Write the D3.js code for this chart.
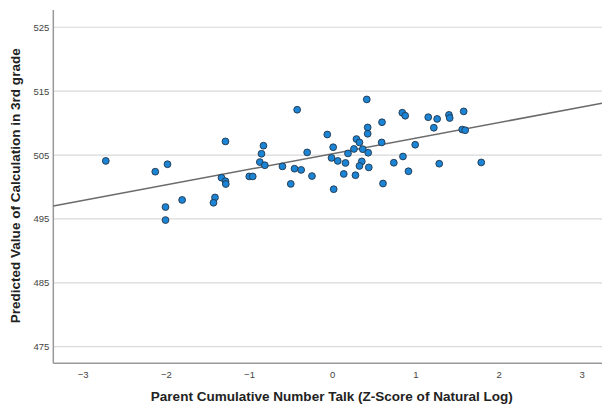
<!DOCTYPE html>
<html><head><meta charset="utf-8">
<script src="https://cdn.jsdelivr.net/npm/d3@7"></script>
<style>
html,body{margin:0;padding:0;background:#fff;}
svg{display:block;}
</style>
</head><body>
<svg id="chart" width="602" height="405"></svg>
<script>
// ---- data ----
const xValues = [-2.722,-2.127,-1.980,-1.804,-2.004,-2.004,-1.409,-1.427,-1.331,-1.283,
  -1.279,-1.283,-0.997,-0.955,-0.826,-0.850,-0.870,-0.810,-0.598,-0.498,
  -0.453,-0.421,-0.373,-0.243,-0.301,-0.059,0.012,-0.008,0.067,0.160,
  0.190,0.139,0.018,0.416,0.843,0.878,0.599,0.427,0.427,0.292,
  0.328,0.595,0.262,0.368,0.433,0.356,0.328,0.440,0.280,0.741,
  0.851,0.998,0.917,0.611,1.155,1.262,1.222,1.404,1.413,1.581,
  1.563,1.599,1.287,1.792];
const yValues = [504.08,502.39,503.56,497.97,496.86,494.82,498.36,497.53,501.45,500.90,
  500.46,507.13,501.65,501.65,506.46,505.20,503.90,503.40,503.22,500.48,
  502.86,512.09,502.67,501.71,505.41,508.21,506.22,504.55,504.08,503.76,
  505.25,502.04,499.65,513.70,511.62,511.15,510.13,509.32,508.33,507.50,
  506.97,506.97,505.95,505.91,505.36,504.00,503.29,503.06,501.84,503.79,
  504.77,506.61,502.46,500.54,510.92,510.65,509.27,511.28,510.79,511.83,
  508.99,508.88,503.64,503.84];
const xTicks = [-3,-2,-1,0,1,2,3];
const yTicks = [475,485,495,505,515,525];
const fitX = [-3.353, 3.244];
const fitY = [497.02, 513.10];
const xTitle = "Parent Cumulative Number Talk (Z-Score of Natural Log)";
const yTitle = "Predicted Value of Calculation in 3rd grade";

// ---- layout ----
const svg = d3.select("#chart");
const pLeft = 53.3, pRight = 602, pTop = 10, pBottom = 363.3;
const x = d3.scaleLinear().domain([-3.353, 3.244]).range([pLeft, pRight]);
const y = d3.scaleLinear().domain([472.4, 527.7]).range([pBottom, pTop]);

// gridlines
svg.append("g").selectAll("line").data(yTicks).join("line")
  .attr("x1", pLeft).attr("x2", pRight)
  .attr("y1", d => y(d)).attr("y2", d => y(d))
  .attr("stroke", "#d9d9d9").attr("stroke-width", 1.2);

// y axis
const yAxis = svg.append("g").attr("transform", `translate(${pLeft},0)`)
  .call(d3.axisLeft(y).tickValues(yTicks).tickSize(0).tickPadding(4).tickFormat(d3.format("d")));
yAxis.select(".domain").remove();
yAxis.selectAll("text").attr("font-family", "Liberation Sans, Arial, sans-serif")
  .attr("font-size", 9.5).attr("fill", "#444");

// x axis
const xAxis = svg.append("g").attr("transform", `translate(0,${pBottom})`)
  .call(d3.axisBottom(x).tickValues(xTicks).tickSize(0).tickPadding(8).tickFormat(d3.format("d")));
xAxis.select(".domain").remove();
xAxis.selectAll("text").attr("font-family", "Liberation Sans, Arial, sans-serif")
  .attr("font-size", 9.5).attr("fill", "#444");

// axis lines
svg.append("line").attr("x1", pLeft).attr("x2", pLeft).attr("y1", pTop).attr("y2", pBottom)
  .attr("stroke", "#999").attr("stroke-width", 1.5);
svg.append("line").attr("x1", pLeft).attr("x2", pRight).attr("y1", pBottom).attr("y2", pBottom)
  .attr("stroke", "#999").attr("stroke-width", 1.5);

// fit line
svg.append("line")
  .attr("x1", x(fitX[0])).attr("y1", y(fitY[0]))
  .attr("x2", x(fitX[1])).attr("y2", y(fitY[1]))
  .attr("stroke", "#6b6b6b").attr("stroke-width", 1.5);

// points
const pts = xValues.map((v, i) => ({x: v, y: yValues[i]}));
svg.append("g").selectAll("circle").data(pts).join("circle")
  .attr("cx", d => x(d.x)).attr("cy", d => y(d.y)).attr("r", 3.4)
  .attr("fill", "#1c84d4").attr("stroke", "#22364a").attr("stroke-width", 0.9);

// titles
svg.append("text").attr("x", 331.8).attr("y", 401).attr("text-anchor", "middle")
  .attr("font-family", "Liberation Sans, Arial, sans-serif").attr("font-weight", "bold")
  .attr("font-size", 13.5).attr("fill", "#222")
  .attr("textLength", 362).attr("lengthAdjust", "spacingAndGlyphs")
  .text(xTitle);
svg.append("text").attr("transform", "translate(19.5,185.8) rotate(-90)").attr("text-anchor", "middle")
  .attr("font-family", "Liberation Sans, Arial, sans-serif").attr("font-weight", "bold")
  .attr("font-size", 13.5).attr("fill", "#222")
  .attr("textLength", 275).attr("lengthAdjust", "spacingAndGlyphs")
  .text(yTitle);
</script>
</body></html>
